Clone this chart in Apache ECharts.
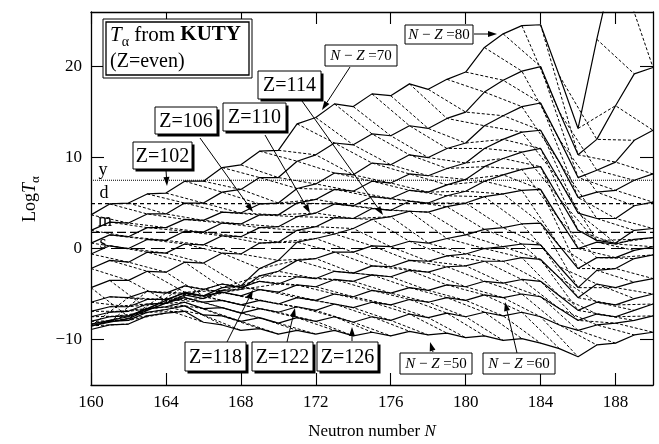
<!DOCTYPE html>
<html lang="en">
<head>
<meta charset="UTF-8">
<title>T alpha from KUTY</title>
<script src="https://cdn.jsdelivr.net/npm/echarts@6/dist/echarts.min.js"></script>
<style>
  html, body { margin: 0; padding: 0; background: #fff; }
  #chart { width: 659px; height: 444px; }
</style>
</head>
<body>
<div id="chart"></div>
<script>
// neutron numbers on the x axis
var neutronNumbers = [160,161,162,163,164,165,166,167,168,169,170,171,172,173,174,175,176,177,178,179,180,181,182,183,184,185,186,187,188,189,190];
var protonNumbers = [102,104,106,108,110,112,114,116,118,120,122,124,126,128];

// log10 T_alpha (s), one array per Z
var logT102 = [3.7,4.9,5.0,6.0,6.1,7.4,7.4,8.9,9.2,10.7,10.8,13.7,14.4,15.9,15.6,17.0,16.8,18.1,17.5,18.6,19.4,22.1,23.6,24.5,24.6,19.0,13.2,23.0,32.0,36.0,38.0];
var logT104 = [2.0,2.9,2.8,3.8,3.8,5.0,5.0,6.2,6.5,7.8,7.8,9.6,10.3,11.6,11.4,12.6,12.4,13.5,13.2,14.3,15.0,17.2,18.5,19.5,20.0,15.0,10.3,12.0,15.7,19.2,19.9];
var logT106 = [0.6,1.5,1.3,2.3,2.3,3.2,3.1,4.0,3.9,4.9,5.0,6.6,7.1,8.3,8.1,9.4,9.2,10.3,10.0,11.0,11.6,13.5,14.6,15.6,16.0,12.0,7.8,8.6,9.5,11.9,13.0];
var logT108 = [-0.6,0.3,0.0,1.0,0.9,1.9,1.8,2.8,2.7,3.7,3.7,5.0,5.4,6.5,6.3,7.4,7.2,8.2,8.0,8.8,9.4,11.0,12.0,12.8,13.0,9.5,5.6,6.2,6.4,7.5,8.2];
var logT110 = [-2.2,-1.3,-1.5,-0.4,-0.5,0.5,0.4,1.4,1.3,2.3,2.4,3.5,3.9,4.9,4.7,5.7,5.5,6.4,6.2,7.0,7.6,9.0,9.9,10.6,11.0,7.5,3.9,3.3,3.3,4.7,5.1];
var logT112 = [-4.3,-3.5,-3.5,-2.5,-2.6,-1.5,-1.6,-0.5,-0.6,0.6,0.7,2.0,2.4,3.4,3.3,4.4,4.2,5.2,5.0,5.8,6.3,7.4,8.1,8.7,9.0,5.5,2.0,0.9,0.6,2.0,2.2];
var logT114 = [-8.3,-7.9,-7.5,-6.6,-5.7,-4.8,-5.2,-4.3,-4.1,-2.2,-1.3,0.7,1.1,1.6,2.2,3.2,3.5,4.1,4.0,4.6,5.0,5.7,6.0,6.4,6.5,3.2,0.0,0.7,0.5,1.0,1.2];
var logT116 = [-8.5,-8.1,-7.7,-6.8,-6.0,-5.1,-5.5,-4.6,-4.5,-3.0,-2.5,-1.3,-1.1,-0.4,-0.4,0.3,0.2,0.8,0.6,1.1,1.5,2.1,2.3,2.7,2.8,0.3,-2.2,-1.0,-1.0,-0.2,0.2];
var logT118 = [-5.9,-5.3,-5.4,-4.7,-4.9,-4.1,-4.5,-3.9,-4.3,-3.6,-3.9,-3.1,-3.3,-2.5,-2.7,-1.9,-2.0,-1.3,-1.4,-0.8,-0.6,0.0,0.2,0.5,0.4,-2.0,-4.3,-2.4,-2.2,-1.1,-0.7];
var logT120 = [-6.9,-6.4,-6.4,-5.6,-5.6,-4.9,-5.2,-4.8,-5.2,-4.5,-4.8,-4.0,-4.2,-3.4,-3.6,-2.9,-3.1,-2.4,-2.6,-2.0,-1.9,-1.4,-1.4,-1.0,-1.2,-3.2,-5.4,-3.9,-4.3,-3.7,-3.3];
var logT122 = [-7.5,-7.0,-6.9,-6.1,-6.0,-5.4,-5.9,-5.7,-6.2,-5.7,-6.1,-5.4,-5.7,-5.0,-5.3,-4.6,-4.9,-4.3,-4.6,-4.0,-4.2,-3.6,-3.8,-3.4,-3.6,-5.2,-6.8,-5.9,-6.2,-5.5,-5.0];
var logT124 = [-8.0,-7.5,-7.4,-6.6,-6.4,-5.9,-6.6,-6.5,-7.1,-6.6,-7.0,-6.4,-6.8,-6.1,-6.5,-5.9,-6.2,-5.6,-5.9,-5.4,-5.7,-5.1,-5.4,-5.0,-5.3,-6.6,-7.9,-7.2,-7.5,-6.8,-6.1];
var logT126 = [-8.5,-8.0,-7.9,-7.0,-6.7,-6.3,-7.3,-7.4,-8.0,-7.6,-8.2,-7.6,-8.0,-7.5,-8.1,-7.5,-7.9,-7.2,-7.6,-7.1,-7.5,-7.0,-7.4,-7.0,-7.5,-8.4,-9.0,-8.4,-8.2,-7.9,-7.4];
var logT128 = [-8.9,-8.4,-8.3,-7.4,-7.1,-6.9,-8.1,-8.4,-9.0,-8.8,-9.4,-9.0,-9.4,-9.0,-9.6,-9.2,-9.6,-9.1,-9.5,-9.3,-9.8,-9.6,-10.1,-9.9,-10.4,-11.0,-11.9,-10.6,-10.4,-9.5,-9.2];
var logTByZ = [logT102, logT104, logT106, logT108, logT110, logT112, logT114, logT116, logT118, logT120, logT122, logT124, logT126, logT128];

// N-Z values joined by the dotted lines
var isospinMin = 32;
var isospinMax = 88;

var xTicks = [160,164,168,172,176,180,184,188];
var yTicks = [-10,0,10,20];

// reference times: year, day, minute, second
var refNames = ['y','d','m','s'];
var refLevels = [7.5, 4.94, 1.78, 0];

var FONT = 'Liberation Serif';
var chart = echarts.init(document.getElementById('chart'));
var series = [];

// dotted lines of constant N-Z
for (var k = isospinMin; k <= isospinMax; k++) {
    var pts = [];
    for (var j = 0; j < protonNumbers.length; j++) {
        var idx = neutronNumbers.indexOf(protonNumbers[j] + k);
        if (idx >= 0) pts.push([neutronNumbers[idx], logTByZ[j][idx]]);
    }
    if (pts.length > 1) {
        series.push({
            type: 'line', data: pts, symbol: 'none', silent: true, z: 2,
            lineStyle: { color: '#000', width: 1, type: [3, 2] }
        });
    }
}

// solid line for every even Z
protonNumbers.forEach(function (z, j) {
    series.push({
        type: 'line', name: 'Z=' + z, symbol: 'none', silent: true, z: 3,
        data: neutronNumbers.map(function (n, i) { return [n, logTByZ[j][i]]; }),
        lineStyle: { color: '#000', width: 1.2 }
    });
});

// horizontal reference lines
var refDash = [[1, 1], [4, 3], [9, 4], [14, 6]];
refLevels.forEach(function (v, i) {
    series.push({
        type: 'line', symbol: 'none', silent: true, z: 4,
        data: [[160, v], [190, v]],
        lineStyle: { color: '#000', width: 1.1, type: refDash[i] }
    });
});

// annotation helpers (pixel positions)
var graphics = [];
function arrow(x1, y1, x2, y2) {
    var dx = x2 - x1, dy = y2 - y1, len = Math.sqrt(dx * dx + dy * dy);
    var ux = dx / len, uy = dy / len, hl = 9, hw = 3;
    var bx = x2 - ux * hl, by = y2 - uy * hl;
    graphics.push({ type: 'line', z: 20, shape: { x1: x1, y1: y1, x2: bx, y2: by }, style: { stroke: '#000', lineWidth: 1 } });
    graphics.push({ type: 'polygon', z: 20, shape: { points: [[x2, y2], [bx - uy * hw, by + ux * hw], [bx + uy * hw, by - ux * hw]] }, style: { fill: '#000' } });
}
function zBox(label, x, y, w, h) {
    graphics.push({ type: 'rect', z: 21, shape: { x: x + 2.5, y: y + 2.5, width: w, height: h }, style: { fill: '#000' } });
    graphics.push({ type: 'rect', z: 22, shape: { x: x, y: y, width: w, height: h }, style: { fill: '#fff', stroke: '#000', lineWidth: 1 } });
    graphics.push({ type: 'text', z: 23, x: x + w / 2, y: y + h / 2 + 1, style: { text: label, font: '20px ' + FONT, fill: '#000', align: 'center', verticalAlign: 'middle' } });
}
function nzBox(value, x, y, w, h) {
    graphics.push({ type: 'rect', z: 22, shape: { x: x, y: y, width: w, height: h }, style: { fill: '#fff', stroke: '#000', lineWidth: 1 } });
    graphics.push({
        type: 'text', z: 23, x: x + w / 2, y: y + h / 2 + 1,
        style: {
            text: '{i|N} \u2212 {i|Z} =' + value, align: 'center', verticalAlign: 'middle',
            font: '15px ' + FONT, fill: '#000',
            rich: { i: { fontFamily: FONT, fontSize: 15, fontStyle: 'italic' } }
        }
    });
}

// title box
graphics.push({ type: 'rect', z: 21, shape: { x: 103, y: 19, width: 149, height: 59 }, style: { fill: '#fff', stroke: '#000', lineWidth: 1 } });
graphics.push({ type: 'rect', z: 22, shape: { x: 106, y: 22, width: 143, height: 53 }, style: { fill: 'none', stroke: '#000', lineWidth: 1.3 } });
graphics.push({
    type: 'text', z: 23, x: 110, y: 35,
    style: {
        text: '{t|T}{a|\u03b1}{n| from }{b|KUTY}', verticalAlign: 'middle', fill: '#000',
        rich: {
            t: { fontFamily: FONT, fontSize: 21, fontStyle: 'italic', lineHeight: 28, verticalAlign: 'middle' },
            a: { fontFamily: FONT, fontSize: 14, lineHeight: 28, verticalAlign: 'bottom' },
            n: { fontFamily: FONT, fontSize: 21, lineHeight: 28, verticalAlign: 'middle' },
            b: { fontFamily: FONT, fontSize: 21, fontWeight: 'bold', lineHeight: 28, verticalAlign: 'middle' }
        }
    }
});
graphics.push({ type: 'text', z: 23, x: 110, y: 62, style: { text: '(Z=even)', font: '20px ' + FONT, fill: '#000', verticalAlign: 'middle' } });

zBox('Z=102', 133, 142, 59, 27);
zBox('Z=106', 155, 107, 62, 27);
zBox('Z=110', 223, 103, 63, 28);
zBox('Z=114', 258, 71, 63, 28);
zBox('Z=118', 185, 342, 61, 29);
zBox('Z=122', 252, 342, 61, 29);
zBox('Z=126', 317, 342, 61, 29);
nzBox(70, 325, 45, 72, 21);
nzBox(80, 405, 25, 68, 19);
nzBox(50, 400, 353, 72, 21);
nzBox(60, 483, 353, 72, 21);

arrow(166, 170, 167, 186);
arrow(200, 138, 253, 212);
arrow(265, 135, 310, 213);
arrow(302, 101, 383, 215);
arrow(350, 67, 322, 110);
arrow(474, 34, 497, 34);
arrow(227, 342, 253, 290);
arrow(287, 342, 295, 308);
arrow(352, 341, 352, 327);
arrow(433, 352, 430, 342);
arrow(517, 353, 505, 302);

// letters next to the reference lines
var refLabelPos = [[103, 170], [104, 193], [105, 221], [103, 243]];
refNames.forEach(function (t, i) {
    graphics.push({ type: 'text', z: 23, x: refLabelPos[i][0], y: refLabelPos[i][1], style: { text: t, font: '18px ' + FONT, fill: '#000', align: 'center', verticalAlign: 'middle' } });
});

// axis titles
graphics.push({
    type: 'text', z: 23, x: 30, y: 199, rotation: Math.PI / 2,
    style: {
        text: '{n|Log}{t|T}{a|\u03b1}', align: 'center', verticalAlign: 'middle', fill: '#000',
        rich: {
            n: { fontFamily: FONT, fontSize: 18, lineHeight: 24, verticalAlign: 'middle' },
            t: { fontFamily: FONT, fontSize: 18, fontStyle: 'italic', lineHeight: 24, verticalAlign: 'middle' },
            a: { fontFamily: FONT, fontSize: 13, lineHeight: 24, verticalAlign: 'bottom' }
        }
    }
});
graphics.push({
    type: 'text', z: 23, x: 372, y: 432,
    style: {
        text: 'Neutron number {i|N}', align: 'center', verticalAlign: 'middle', font: '17px ' + FONT, fill: '#000',
        rich: { i: { fontFamily: FONT, fontSize: 17, fontStyle: 'italic' } }
    }
});

var axisLineStyle = { color: '#000', width: 1.3 };
function xAxisDef(pos, showLabel) {
    return {
        type: 'value', min: 160, max: 190, position: pos,
        axisLine: { show: true, onZero: false, lineStyle: axisLineStyle },
        axisTick: { show: true, inside: true, length: 12, customValues: xTicks, lineStyle: { color: '#000', width: 1.1 } },
        axisLabel: { show: showLabel, customValues: xTicks, color: '#000', fontFamily: FONT, fontSize: 17, margin: 9 },
        splitLine: { show: false }
    };
}
function yAxisDef(pos, showLabel) {
    return {
        type: 'value', min: -15, max: 26, position: pos,
        axisLine: { show: true, onZero: false, lineStyle: axisLineStyle },
        axisTick: { show: true, inside: true, length: 13, customValues: yTicks, lineStyle: { color: '#000', width: 1.1 } },
        axisLabel: {
            show: showLabel, customValues: yTicks, color: '#000', fontFamily: FONT, fontSize: 17, margin: 9,
            formatter: function (v) { return v < 0 ? '\u2212' + Math.abs(v) : String(v); }
        },
        splitLine: { show: false }
    };
}

chart.setOption({
    animation: false,
    backgroundColor: '#fff',
    grid: { left: 91, right: 6, top: 12, bottom: 59 },
    xAxis: [xAxisDef('bottom', true), xAxisDef('top', false)],
    yAxis: [yAxisDef('left', true), yAxisDef('right', false)],
    series: series,
    graphic: graphics
});
</script>
</body>
</html>
